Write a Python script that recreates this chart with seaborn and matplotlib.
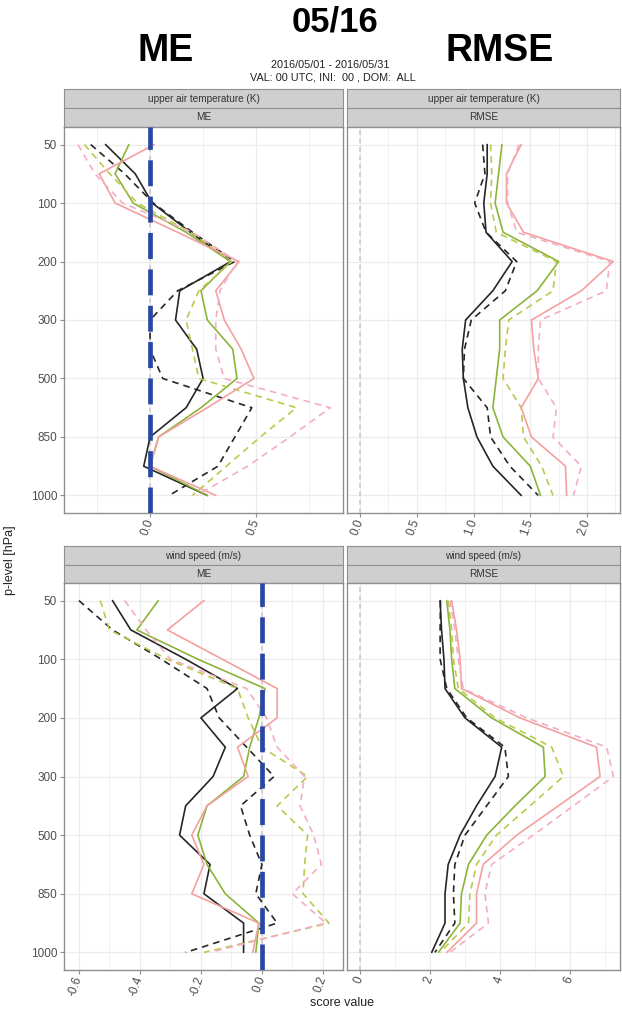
import numpy as np
import pandas as pd
import seaborn as sns
import matplotlib
matplotlib.use("Agg")
import matplotlib.pyplot as plt
from matplotlib.ticker import FixedLocator, FuncFormatter

# ---------------------------------------------------------------- data
levels = [50, 70, 100, 150, 200, 250, 300, 400, 500, 700, 850, 925, 1000]
level_ticks = [50, 100, 200, 300, 500, 850, 1000]

series = ["exp1", "exp1_ref", "exp2", "exp2_ref", "exp3", "exp3_ref"]

# upper air temperature (K), ME
t_me = {
    "exp1":     [-0.21, -0.07, 0.01, 0.19, 0.38, 0.14, 0.12, 0.22, 0.25, 0.17, 0.00, -0.03, 0.27],
    "exp1_ref": [-0.28, -0.12, 0.015, 0.20, 0.40, 0.13, 0.00, 0.00, 0.06, 0.48, 0.40, 0.32, 0.09],
    "exp2":     [-0.10, -0.165, -0.08, 0.17, 0.38, 0.24, 0.27, 0.39, 0.41, 0.24, 0.04, 0.00, 0.27],
    "exp2_ref": [-0.31, -0.19, -0.06, 0.19, 0.385, 0.23, 0.17, 0.20, 0.23, 0.69, 0.52, 0.36, 0.20],
    "exp3":     [0.02, -0.24, -0.165, 0.13, 0.42, 0.31, 0.35, 0.43, 0.49, 0.27, 0.04, 0.00, 0.31],
    "exp3_ref": [-0.34, -0.26, -0.13, 0.20, 0.41, 0.33, 0.31, 0.31, 0.35, 0.85, 0.66, 0.46, 0.22],
}
# upper air temperature (K), RMSE
t_rmse = {
    "exp1":     [1.12, 1.12, 1.09, 1.11, 1.34, 1.17, 0.93, 0.90, 0.91, 0.95, 1.03, 1.17, 1.42],
    "exp1_ref": [1.08, 1.10, 1.01, 1.11, 1.38, 1.28, 0.98, 0.92, 0.91, 1.12, 1.15, 1.32, 1.57],
    "exp2":     [1.25, 1.22, 1.19, 1.26, 1.75, 1.56, 1.23, 1.23, 1.20, 1.17, 1.26, 1.50, 1.59],
    "exp2_ref": [1.15, 1.16, 1.15, 1.20, 1.73, 1.70, 1.31, 1.28, 1.26, 1.42, 1.44, 1.60, 1.70],
    "exp3":     [1.42, 1.29, 1.29, 1.44, 2.23, 1.95, 1.51, 1.53, 1.57, 1.42, 1.51, 1.81, 1.82],
    "exp3_ref": [1.40, 1.30, 1.30, 1.38, 2.20, 2.17, 1.59, 1.57, 1.57, 1.73, 1.70, 1.95, 1.88],
}
# wind speed (m/s), ME
w_me = {
    "exp1":     [-0.49, -0.43, -0.25, -0.08, -0.20, -0.12, -0.16, -0.25, -0.27, -0.17, -0.19, -0.06, -0.06],
    "exp1_ref": [-0.60, -0.49, -0.33, -0.18, -0.14, -0.05, 0.04, -0.07, -0.04, 0.00, -0.02, 0.05, -0.25],
    "exp2":     [-0.34, -0.41, -0.21, 0.01, -0.01, -0.04, -0.06, -0.18, -0.21, -0.18, -0.12, -0.01, -0.02],
    "exp2_ref": [-0.53, -0.50, -0.31, -0.08, -0.045, 0.00, 0.15, 0.05, 0.15, 0.14, 0.135, 0.22, -0.19],
    "exp3":     [-0.19, -0.31, -0.13, 0.05, 0.05, -0.08, -0.045, -0.18, -0.23, -0.19, -0.23, -0.01, -0.03],
    "exp3_ref": [-0.45, -0.38, -0.30, -0.05, 0.015, 0.05, 0.14, 0.125, 0.17, 0.195, 0.10, 0.21, -0.17],
}
# wind speed (m/s), RMSE
w_rmse = {
    "exp1":     [2.29, 2.33, 2.40, 2.43, 3.00, 4.05, 3.86, 3.33, 2.86, 2.52, 2.43, 2.43, 2.05],
    "exp1_ref": [2.30, 2.29, 2.29, 2.48, 3.05, 4.14, 4.24, 3.62, 3.00, 2.71, 2.67, 2.71, 2.14],
    "exp2":     [2.48, 2.57, 2.62, 2.71, 3.76, 5.24, 5.29, 4.43, 3.62, 3.10, 2.90, 2.86, 2.24],
    "exp2_ref": [2.52, 2.62, 2.67, 2.81, 3.86, 5.48, 5.81, 4.86, 3.90, 3.33, 3.14, 3.10, 2.29],
    "exp3":     [2.62, 2.76, 2.86, 2.90, 4.57, 6.76, 6.86, 5.67, 4.48, 3.52, 3.33, 3.33, 2.48],
    "exp3_ref": [2.57, 2.71, 2.81, 2.95, 4.76, 7.05, 7.24, 6.10, 4.95, 3.76, 3.57, 3.67, 2.57],
}

panels = [
    ("upper air temperature (K)", "ME", t_me),
    ("upper air temperature (K)", "RMSE", t_rmse),
    ("wind speed (m/s)", "ME", w_me),
    ("wind speed (m/s)", "RMSE", w_rmse),
]

# ---------------------------------------------------------------- styling
palette = {
    "exp1": "#262626", "exp1_ref": "#262626",
    "exp2": "#8cb43a", "exp2_ref": "#bcc84c",
    "exp3": "#f4a0a0", "exp3_ref": "#f3aec2",
}
dashes = {s: ((4, 3) if s.endswith("_ref") else "") for s in series}

W, H = 622, 1021
sns.set_theme(style="white")
plt.rcParams["font.family"] = ["Liberation Sans", "DejaVu Sans"]

fig = plt.figure(figsize=(W / 100, H / 100), dpi=100)


def px_axes(x0, y0, x1, y1, **kw):
    return fig.add_axes([x0 / W, 1 - y1 / H, (x1 - x0) / W, (y1 - y0) / H], **kw)


cols = [(64, 343), (347, 620)]
rows = [(89, 108, 127, 513), (546, 565, 583, 970)]
xlims = [(-0.406, 0.91), (-0.115, 2.29), (-0.649, 0.266), (-0.371, 7.43)]
xmajor = [[0.0, 0.5], [0.0, 0.5, 1.0, 1.5, 2.0],
          [-0.6, -0.4, -0.2, 0.0, 0.2], [0, 2, 4, 6]]
xminor = [[-0.25, 0.25, 0.75], [0.25, 0.75, 1.25, 1.75, 2.25],
          [-0.5, -0.3, -0.1, 0.1], [1, 3, 5, 7]]
xfmt = ["{:.1f}", "{:.1f}", "{:.1f}", "{:.0f}"]

border = "#8f8f8f"
strip_fill = "#cfcfcf"
tick_col = "#4d4d4d"
grid_col = "#ececec"

ypos = {p: i for i, p in enumerate(levels)}

for k, (var, score, vals) in enumerate(panels):
    r, c = divmod(k, 2)
    x0, x1 = cols[c]
    s0, s1, p0, p1 = rows[r]

    # facet strips (variable on top, score below)
    for (ya, yb, label) in [(s0, s1, var), (s1, p0, score)]:
        sax = px_axes(x0, ya, x1, yb)
        sax.set_facecolor(strip_fill)
        sax.set_xticks([])
        sax.set_yticks([])
        for sp in sax.spines.values():
            sp.set_color(border)
            sp.set_linewidth(0.8)
        sax.text(0.5, 0.5, label, ha="center", va="center",
                 fontsize=7.2, color="#333333", transform=sax.transAxes)

    ax = px_axes(x0, p0, x1, p1)
    df = pd.DataFrame({
        "series": np.repeat(series, len(levels)),
        "level": np.tile(levels, len(series)),
        "value": np.concatenate([vals[s] for s in series]),
    })
    df["ypos"] = df["level"].map(ypos)

    # background grid
    for v in xminor[k]:
        ax.axvline(v, color=grid_col, lw=0.5, zorder=0)
    for v in xmajor[k]:
        ax.axvline(v, color=grid_col, lw=0.9, zorder=0)
    for p in level_ticks:
        ax.axhline(ypos[p], color=grid_col, lw=0.9, zorder=0)

    # zero reference
    ax.axvline(0, color="#c6c6c6", lw=1.1, dashes=(3, 2.5), zorder=1)

    sns.lineplot(data=df, x="value", y="ypos", hue="series", style="series",
                 hue_order=series, style_order=series, palette=palette,
                 dashes=dashes, orient="y", estimator=None, sort=True,
                 lw=1.2, legend=False, ax=ax, zorder=3)

    if score == "ME":
        ax.axvline(0, color="#2a48a3", lw=3.4, dashes=(5.5, 2.2), zorder=5)

    ax.set_xlim(*xlims[k])
    ax.set_ylim(len(levels) - 1 + 0.6, -0.6)
    ax.set_xlabel("")
    ax.set_ylabel("")
    ax.set_facecolor("white")
    for sp in ax.spines.values():
        sp.set_color(border)
        sp.set_linewidth(1.0)

    ax.xaxis.set_major_locator(FixedLocator(xmajor[k]))
    ax.xaxis.set_major_formatter(FuncFormatter(lambda v, _p, f=xfmt[k]: f.format(v)))
    ax.tick_params(axis="x", bottom=True, length=3, width=0.8, color=border,
                   labelsize=8.5, labelcolor=tick_col, pad=2)
    for lab in ax.get_xticklabels():
        lab.set_rotation(70)
        lab.set_ha("right")
        lab.set_va("center")
        lab.set_rotation_mode("anchor")

    ax.set_yticks([ypos[p] for p in level_ticks])
    if c == 0:
        ax.set_yticklabels([str(p) for p in level_ticks])
        ax.tick_params(axis="y", left=True, length=3, width=0.8, color=border,
                       labelsize=8.5, labelcolor=tick_col, pad=2)
    else:
        ax.set_yticklabels([])
        ax.tick_params(axis="y", left=False)

# titles and labels
fig.text(335 / W, 1 - 22 / H, "05/16", ha="center", va="center",
         fontsize=25, fontweight="bold", color="black")
fig.text(166 / W, 1 - 51 / H, "ME", ha="center", va="center",
         fontsize=27, fontweight="bold", color="black")
fig.text(500 / W, 1 - 51 / H, "RMSE", ha="center", va="center",
         fontsize=27, fontweight="bold", color="black")
fig.text(330 / W, 1 - 65 / H, "2016/05/01 - 2016/05/31", ha="center",
         va="center", fontsize=7.8, color="#222222")
fig.text(333 / W, 1 - 77 / H, "VAL: 00 UTC, INI:  00 , DOM:  ALL", ha="center",
         va="center", fontsize=7.8, color="#222222")
fig.text(342 / W, 1 - 1003 / H, "score value", ha="center", va="center",
         fontsize=9, color="#222222")
fig.text(10 / W, 1 - 560 / H, "p-level [hPa]", ha="center", va="center",
         rotation=90, fontsize=9, color="#222222")

fig.savefig("out.png", dpi=100, facecolor="white")
